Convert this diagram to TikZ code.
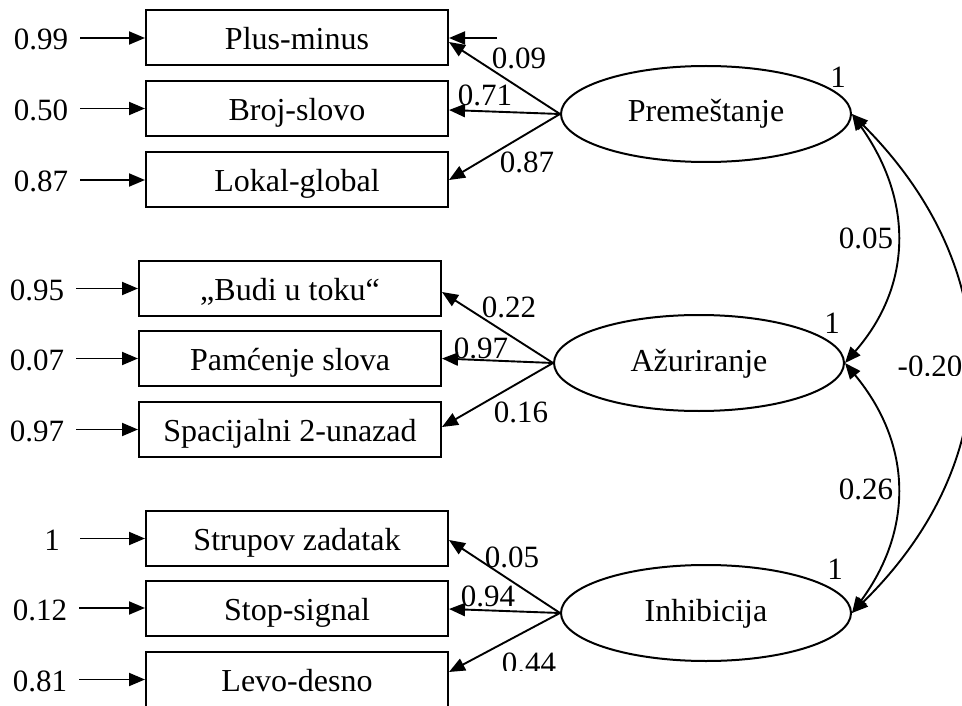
\documentclass[tikz,border=0pt]{standalone}
\usepackage{fontspec}
\setmainfont{Liberation Serif}
\usetikzlibrary{arrows.meta,shapes.geometric}
\begin{document}
\begin{tikzpicture}[x=1pt,y=-1pt,
  num/.style={inner sep=0pt, font=\fontsize{31}{36}\selectfont},
  obs/.style={draw, line width=2pt, minimum width=302pt, minimum height=55pt,
    inner sep=0pt, text height=24pt, text depth=0pt, font=\fontsize{32}{38}\selectfont},
  lat/.style={draw, ellipse, line width=2pt, minimum width=290pt, minimum height=96pt,
    inner sep=0pt, text height=20pt, text depth=4pt, font=\fontsize{32}{38}\selectfont},
  errlab/.style={inner xsep=12pt, inner ysep=0pt, text height=24pt, text depth=0pt,
    font=\fontsize{31}{36}\selectfont},
  arr/.style={-{Triangle[length=16pt,width=13pt]}, line width=1.9pt},
  dbl/.style={{Triangle[length=16pt,width=13pt]}-{Triangle[length=16pt,width=13pt]}, line width=1.9pt}
]
\useasboundingbox (0,0) rectangle (962,706);
\clip (0,0) rectangle (962,706);

% observed indicators
\node[obs] (b1) at (297,38)    {Plus-minus};
\node[obs] (b2) at (297,108.5) {Broj-slovo};
\node[obs] (b3) at (297,180)   {Lokal-global};
\node[obs] (b4) at (290,288.5) {„Budi u toku“};
\node[obs] (b5) at (290,358.5) {Pamćenje slova};
\node[obs] (b6) at (290,429.5) {Spacijalni 2-unazad};
\node[obs] (b7) at (297,538.5) {Strupov zadatak};
\node[obs] (b8) at (297,608)   {Stop-signal};
\node[obs] (b9) at (297,679.5) {Levo-desno};

% error variances
\node[errlab] (e1) at (41,38)    {0.99};
\node[errlab] (e2) at (41,108.5) {0.50};
\node[errlab] (e3) at (41,180)   {0.87};
\node[errlab] (e4) at (37,288.5) {0.95};
\node[errlab] (e5) at (37,358.5) {0.07};
\node[errlab] (e6) at (37,429.5) {0.97};
\node[errlab, minimum width=56pt] (e7) at (52,538.5) {1};
\node[errlab] (e8) at (40,608)   {0.12};
\node[errlab] (e9) at (40,679.5) {0.81};
\foreach \i in {1,...,9} \draw[arr] (e\i.east) -- (b\i.west);

% latent factors
\node[lat] (P) at (706,114) {Premeštanje};
\node[lat] (A) at (699,363) {Ažuriranje};
\node[lat] (I) at (706,613) {Inhibicija};

% factor loadings
\coordinate (c0) at (497,38);
\draw[arr] (c0) -- (b1.east);
\draw[arr] (P.west) -- ([yshift=-4pt]b1.east);
\draw[arr] (P.west) -- ([yshift=-1.5pt]b2.east);
\draw[arr] (P.west) -- (b3.east);
\draw[arr] (A.west) -- ([yshift=-3.5pt]b4.east);
\draw[arr] (A.west) -- (b5.east);
\draw[arr] (A.west) -- ([yshift=2.5pt]b6.east);
\draw[arr] (I.west) -- ([yshift=-1.5pt]b7.east);
\draw[arr] (I.west) -- ([yshift=-1pt]b8.east);
\draw[arr] (I.west) -- ([yshift=7.5pt]b9.east);

\node[num] (l1) at (519,58)  {0.09};
\node[num] (l2) at (485,95)  {0.71};
\node[num] (l3) at (527,162) {0.87};
\node[num] (l4) at (509,307) {0.22};
\node[num] (l5) at (481,348) {0.97};
\node[num] (l6) at (521,412) {0.16};
\node[num] (l7) at (512,557) {0.05};
\node[num] (l8) at (488,596) {0.94};
\begin{scope}
  \clip (490,640) rectangle (570,670);
  \node[num] (l9) at (529,663) {0.44};
\end{scope}

% factor variances
\node[num] (v1) at (838,77)  {1};
\node[num] (v2) at (832,323) {1};
\node[num] (v3) at (835,569) {1};

% factor covariances
\draw[dbl] (P.east) .. controls (913,200) and (913,285) .. (A.east);
\draw[dbl] (A.east) .. controls (913,445) and (913,530) .. (I.east);
\draw[dbl] (P.east) .. controls (1008,270) and (1008,460) .. (I.east);
\node[num] (k1) at (866,238) {0.05};
\node[num] (k2) at (866,489) {0.26};
\begin{scope}
  \clip (880,340) rectangle (962,375);
  \node[num] (k3) at (930,366) {-0.20};
\end{scope}
\end{tikzpicture}
\end{document}
